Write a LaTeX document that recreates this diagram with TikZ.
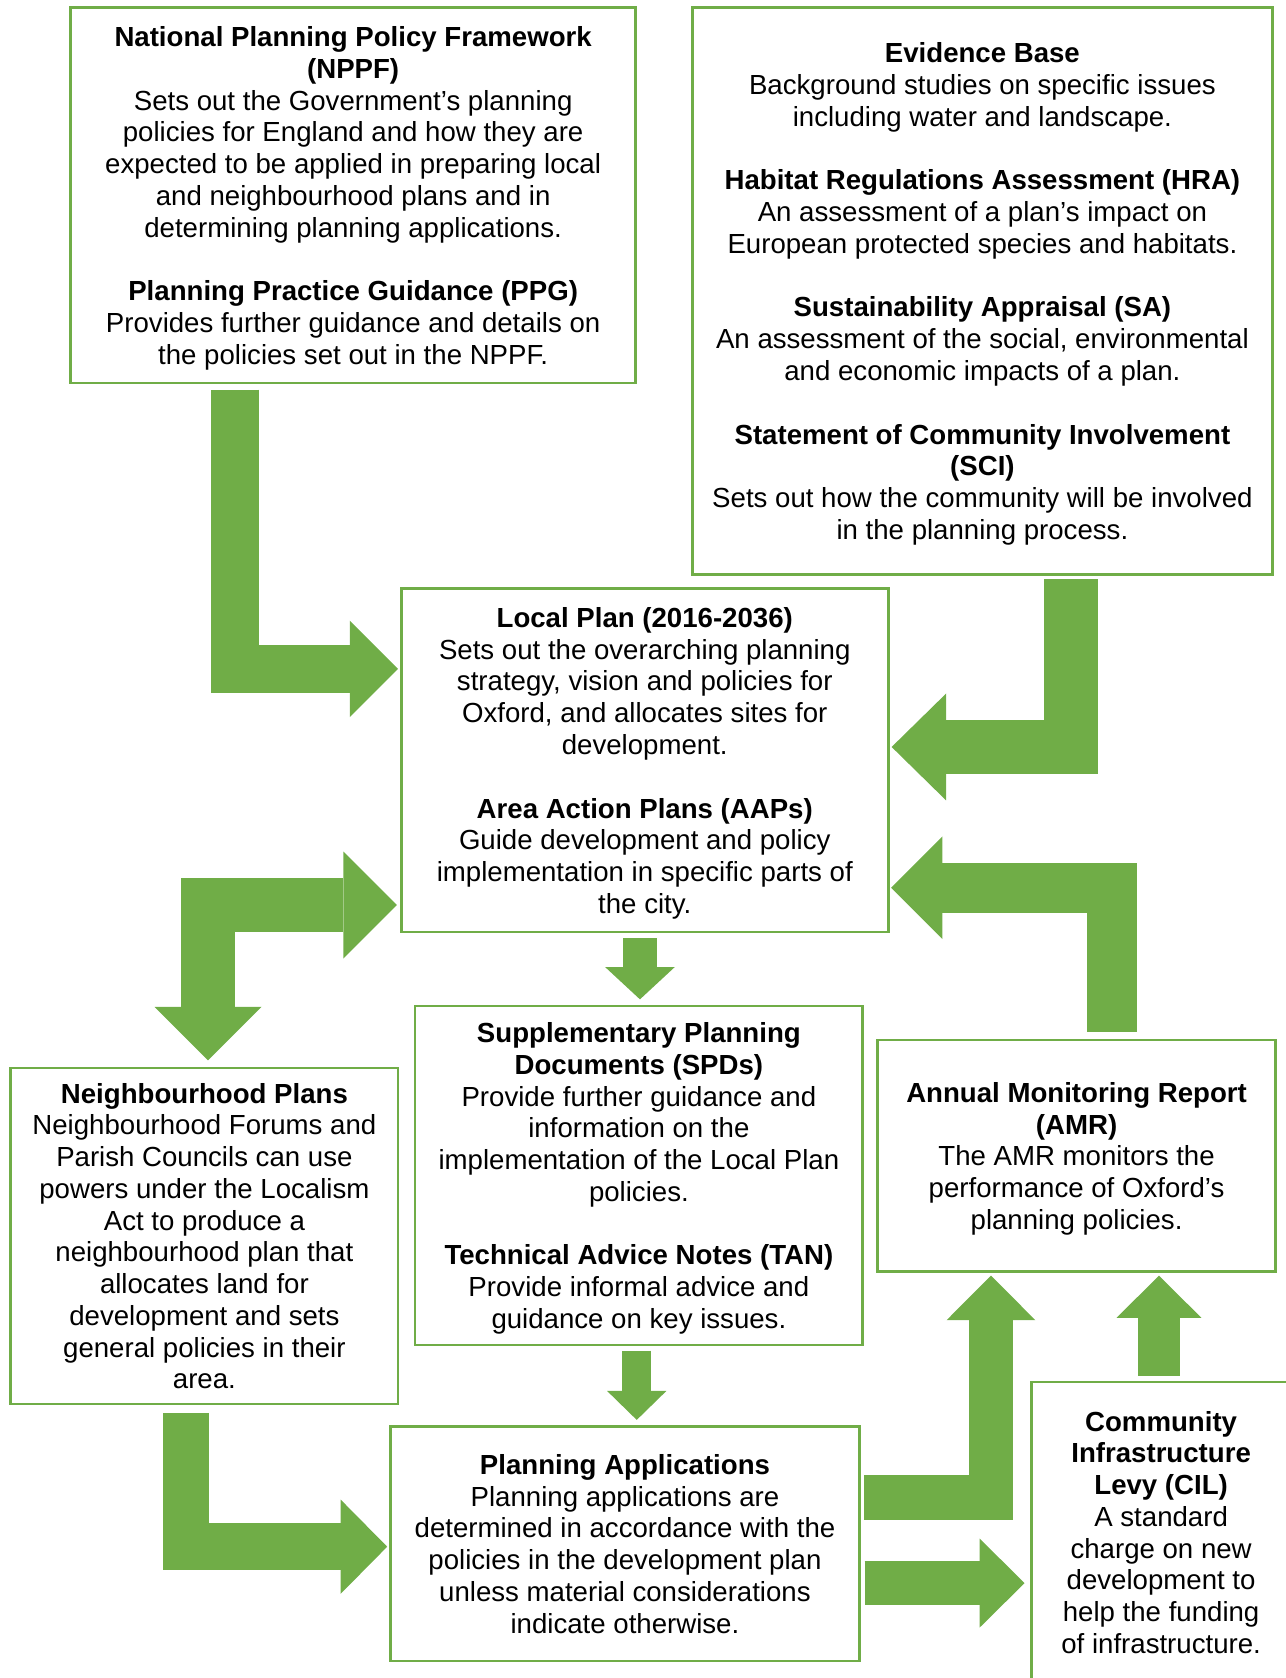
\documentclass[tikz,border=0pt]{standalone}
\usepackage{fontspec}
\setmainfont{Liberation Sans}
\usepackage{tikz}
\usetikzlibrary{arrows.meta}

\definecolor{planGreen}{HTML}{70AD47}

\tikzset{
  planbox/.style 2 args={draw=planGreen, line width=1.1pt, align=center,
    minimum width=#1*0.465pt, minimum height=#2*0.465pt, inner sep=0pt,
    font=\fontsize{12}{13.8}\selectfont, text depth=0pt},
  flow/.style={draw=planGreen, line join=miter, line cap=butt},
}
\newcommand{\tipgreen}[2]{Triangle[length=#1, width=#2, line width=0pt, fill=planGreen, color=planGreen]}

\begin{document}
\begin{tikzpicture}[x=0.465pt, y=-0.465pt]
\useasboundingbox (0,0) rectangle (1201,1568);
%
\node[planbox={528}{351}] (nppf) at (330,182.5)
  {\textbf{National Planning Policy Framework}\\
   \textbf{(NPPF)}\\
   Sets out the Government’s planning\\
   policies for England and how they are\\
   expected to be applied in preparing local\\
   and neighbourhood plans and in\\
   determining planning applications.\\[13.8pt]
   \textbf{Planning Practice Guidance (PPG)}\\
   Provides further guidance and details on\\
   the policies set out in the NPPF.};
\node[planbox={542}{530}] (evid) at (918,272)
  {\textbf{Evidence Base}\\
   Background studies on specific issues\\
   including water and landscape.\\[13.8pt]
   \textbf{Habitat Regulations Assessment (HRA)}\\
   An assessment of a plan’s impact on\\
   European protected species and habitats.\\[13.8pt]
   \textbf{Sustainability Appraisal (SA)}\\
   An assessment of the social, environmental\\
   and economic impacts of a plan.\\[13.8pt]
   \textbf{Statement of Community Involvement}\\
   \textbf{(SCI)}\\
   Sets out how the community will be involved\\
   in the planning process.};
\node[planbox={455}{321}] (lp) at (602.5,710.5)
  {\textbf{Local Plan (2016-2036)}\\
   Sets out the overarching planning\\
   strategy, vision and policies for\\
   Oxford, and allocates sites for\\
   development.\\[13.8pt]
   \textbf{Area Action Plans (AAPs)}\\
   Guide development and policy\\
   implementation in specific parts of\\
   the city.};
\node[planbox={418}{317}] (spd) at (597,1098.5)
  {\textbf{Supplementary Planning}\\
   \textbf{Documents (SPDs)}\\
   Provide further guidance and\\
   information on the\\
   implementation of the Local Plan\\
   policies.\\[13.8pt]
   \textbf{Technical Advice Notes (TAN)}\\
   Provide informal advice and\\
   guidance on key issues.};
\node[planbox={362}{314}] (nbr) at (191,1155)
  {\textbf{Neighbourhood Plans}\\
   Neighbourhood Forums and\\
   Parish Councils can use\\
   powers under the Localism\\
   Act to produce a\\
   neighbourhood plan that\\
   allocates land for\\
   development and sets\\
   general policies in their\\
   area.};
\node[planbox={372}{216.5}] (amr) at (1006,1080)
  {\textbf{Annual Monitoring Report}\\
   \textbf{(AMR)}\\
   The AMR monitors the\\
   performance of Oxford’s\\
   planning policies.};
\node[planbox={438}{219}] (pa) at (584,1442.5)
  {\textbf{Planning Applications}\\
   Planning applications are\\
   determined in accordance with the\\
   policies in the development plan\\
   unless material considerations\\
   indicate otherwise.};
\node[planbox={242}{281}, text depth=] (cil) at (1085,1432)
  {\textbf{Community}\\
   \textbf{Infrastructure}\\
   \textbf{Levy (CIL)}\\
   A standard\\
   charge on new\\
   development to\\
   help the funding\\
   of infrastructure.};
%
% block arrows
\draw[flow, line width=20.9pt, -{\tipgreen{20.9pt}{41.9pt}}]
  ([shift={(154.5,5)}]nppf.south west) |- ([shift={(-2,-85.5)}]lp.west);
\draw[flow, line width=23.25pt, -{\tipgreen{23.7pt}{46.5pt}}]
  ([shift={(355,3)}]evid.south west) |- ([shift={(2,-12.5)}]lp.east);
\draw[flow, line width=23.25pt, {\tipgreen{23.25pt}{46.5pt}}-{\tipgreen{23.25pt}{46.5pt}}]
  ([shift={(-3,135.2)}]lp.west) -| ([shift={(3.4,-6)}]nbr.north);
\draw[flow, line width=21.9pt, -{\tipgreen{22.3pt}{44.6pt}}]
  ([shift={(33,-6.4)}]amr.north) |- ([shift={(1.5,119)}]lp.east);
\draw[flow, line width=14.9pt, -{\tipgreen{14pt}{30.2pt}}]
  ([shift={(-4.5,4.4)}]lp.south) -- ([shift={(1,-5)}]spd.north);
\draw[flow, line width=12.7pt, -{\tipgreen{12.6pt}{25.8pt}}]
  ([shift={(-2,4)}]spd.south) -- ([shift={(11,-5)}]pa.north);
\draw[flow, line width=20.3pt, -{\tipgreen{20.2pt}{40.9pt}}]
  ([shift={(-17.2,7)}]nbr.south) |- ([shift={(-2,2.8)}]pa.west);
\draw[flow, line width=19.3pt, -{\tipgreen{19.4pt}{38.6pt}}]
  ([shift={(3,-43.2)}]pa.east) -| ([shift={(-80,2.5)}]amr.south);
\draw[flow, line width=18.6pt, -{\tipgreen{18.4pt}{36.9pt}}]
  ([shift={(-2,-5)}]cil.north) -- ([shift={(77,2.5)}]amr.south);
\draw[flow, line width=19.3pt, -{\tipgreen{19.5pt}{38.6pt}}]
  ([shift={(3.8,36.8)}]pa.east) -- ([shift={(-5.4,47.3)}]cil.west);
\end{tikzpicture}
\end{document}
